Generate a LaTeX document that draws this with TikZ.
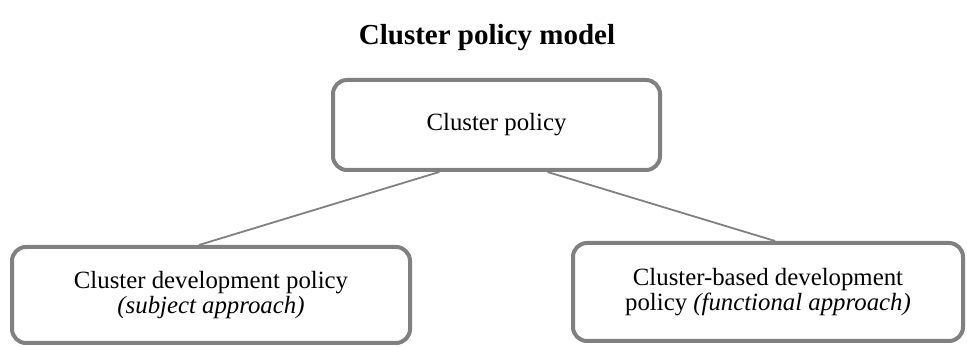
\documentclass[tikz,border=0pt]{standalone}
\usepackage{fontspec}
\setmainfont{Liberation Serif}
\usetikzlibrary{calc}
\definecolor{boxgray}{HTML}{808080}
\tikzset{
  policybox/.style={draw=boxgray, line width=4pt, rounded corners=14pt, fill=white,
    align=center, inner sep=0pt, font=\fontsize{24.8}{25}\selectfont},
  link/.style={draw=boxgray, line width=1.8pt}
}
\begin{document}
\begin{tikzpicture}[x=1pt,y=-1pt]
\useasboundingbox (0,0) rectangle (967,347);
\node[font=\fontsize{29}{32}\selectfont\bfseries] (title) at (487,38) {Cluster policy model};
\node[policybox, minimum width=327pt, minimum height=90pt] (top) at (496.5,125) {Cluster policy};
\node[policybox, minimum width=398pt, minimum height=96pt] (left) at (211,295)
  {Cluster development policy\\ \textit{(subject approach)}};
\node[policybox, minimum width=390pt, minimum height=98pt] (right) at (768,292)
  {Cluster-based development\\ policy \textit{(functional approach)}};
\coordinate (tl) at ($(top.south west)!0.327!(top.south east)$);
\coordinate (tr) at ($(top.south west)!0.654!(top.south east)$);
\coordinate (le) at ($(left.north west)!0.47!(left.north east)$);
\coordinate (re) at ($(right.north west)!0.518!(right.north east)$);
\draw[link] (tl) -- (le);
\draw[link] (tr) -- (re);
\end{tikzpicture}
\end{document}
